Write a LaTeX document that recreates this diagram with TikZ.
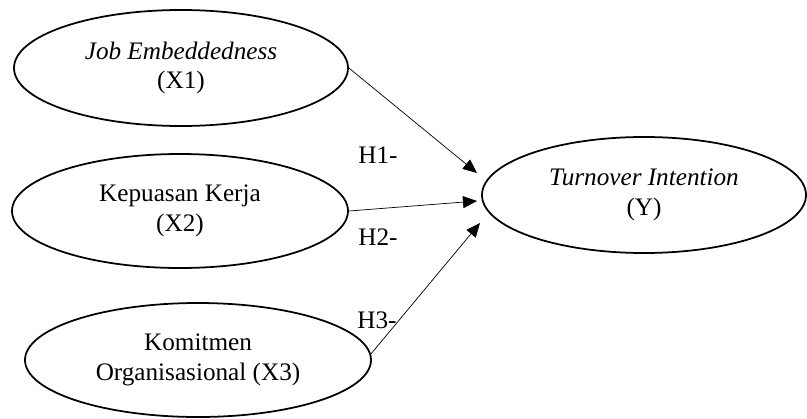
\documentclass[tikz,border=0pt]{standalone}
\usepackage{fontspec}
\setmainfont{Liberation Serif}
\usetikzlibrary{shapes.geometric,arrows.meta}
\tikzset{
  var/.style={draw, ellipse, line width=1.5pt, inner sep=0pt, align=center,
    font=\fontsize{21.5}{25.5}\selectfont},
  hyp/.style={font=\fontsize{21.5}{25.5}\selectfont},
  path/.style={-{Triangle[length=0.42cm, width=0.36cm]}, line width=0.6pt}
}
\begin{document}
\begin{tikzpicture}[x=0.03cm, y=-0.03cm]
            \useasboundingbox (0,0) rectangle (807,419);
            \draw (181, 68) node[var, minimum width=10.02cm, minimum height=3.48cm] (x1) {\textit{Job Embeddedness}\\(X1)};
            \draw (180, 211) node[var, minimum width=10.08cm, minimum height=3.42cm] (x2) {Kepuasan Kerja\\(X2)};
            \draw (198, 360) node[var, minimum width=10.38cm, minimum height=3.42cm] (x3) {Komitmen\\Organisasional (X3)};
            \draw (644, 195) node[var, minimum width=9.72cm, minimum height=3.48cm] (y) {\textit{Turnover Intention}\\(Y)};

            \coordinate (t1) at (477, 173);
            \coordinate (t2) at (477, 201);
            \coordinate (t3) at (480, 223);

            \draw[path] (x1.east) -- (t1);
            \draw[path] (x2.east) -- (t2);
            \draw[path] (x3.2) -- (t3);

            \draw (378, 155) node[hyp] (h1) {H1-};
            \draw (378, 237) node[hyp] (h2) {H2-};
            \draw (377, 320) node[hyp] (h3) {H3-};
        \end{tikzpicture}
\end{document}
